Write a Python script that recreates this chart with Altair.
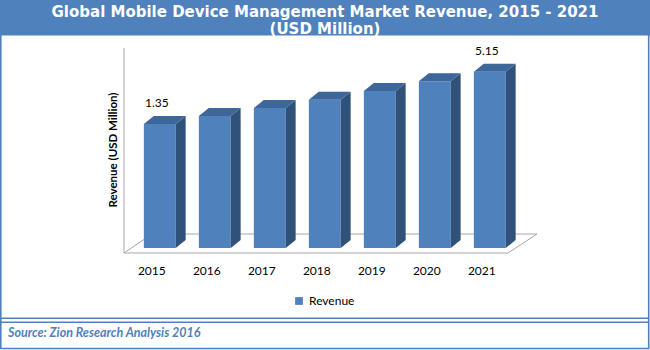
import altair as alt
import pandas as pd

# ---------------- data ----------------
YEARS = ["2015", "2016", "2017", "2018", "2019", "2020", "2021"]
REVENUE = [1.35, 1.93, 2.51, 3.12, 3.75, 4.46, 5.15]
SERIES = "Revenue"
SHOWN_LABELS = ["2015", "2021"]

TITLE_1 = "Global Mobile Device Management Market Revenue, 2015 - 2021"
TITLE_2 = "(USD Million)"
Y_TITLE = "Revenue (USD Million)"
SOURCE = "Source: Zion Research Analysis 2016"

# ---------------- style / geometry ----------------
BLUE = "#4F81BD"
TOP_C = "#3D6699"
SIDE_C = "#30527A"
GRID = "#A6A6A6"
FONT = "Lato"
TITLE_FONT = "DejaVu Sans"

BASE = -7.66      # value where the drawn bars stand (value axis does not start at 0)
HALF_W = 0.29     # half width of the front face, category units
DX = 0.18         # 3-D depth, category units
DY = 0.58         # 3-D depth, value units

n = len(YEARS)
df = pd.DataFrame({"year": YEARS, "idx": list(range(n)), "value": REVENUE})
df["series"] = SERIES
df["xl"] = df["idx"] - HALF_W
df["xr"] = df["idx"] + HALF_W
df["base"] = BASE
df["label"] = [f"{v:.2f}" if y in SHOWN_LABELS else "" for y, v in zip(YEARS, REVENUE)]

side_rows, top_rows = [], []
for _, r in df.iterrows():
    side_rows.append({"year": r.year, "x": r.xr, "y": r.value, "y2": BASE})
    side_rows.append({"year": r.year, "x": r.xr + DX, "y": r.value + DY, "y2": BASE + DY})
    top_rows.append({"year": r.year, "y": r.value, "x": r.xl, "x2": r.xr})
    top_rows.append({"year": r.year, "y": r.value + DY, "x": r.xl + DX, "x2": r.xr + DX})
side = pd.DataFrame(side_rows)
top = pd.DataFrame(top_rows)

xs = alt.Scale(domain=[0, n - 1], range=[159.8, 489.8], nice=False, zero=False)
ys = alt.Scale(domain=[BASE, 10.36], range=[248, 0], nice=False, zero=False)

one = pd.DataFrame({"k": [0]})


def rule(x1, y1, x2, y2, color=GRID, width=1.0):
    return alt.Chart(one).mark_rule(color=color, strokeWidth=width).encode(
        x=alt.value(x1), y=alt.value(y1), x2=alt.value(x2), y2=alt.value(y2)
    )


def label(text, x, y, **kw):
    return alt.Chart(one).mark_text(**kw).encode(
        x=alt.value(x), y=alt.value(y), text=alt.value(text)
    )


banner = alt.Chart(one).mark_rect(color=BLUE).encode(
    x=alt.value(0), x2=alt.value(650), y=alt.value(0), y2=alt.value(35.5)
)
frame = alt.Chart(one).mark_rect(fill=None, stroke=BLUE, strokeWidth=1.6).encode(
    x=alt.value(0.8), x2=alt.value(648.7), y=alt.value(0.8), y2=alt.value(348.5)
)

floor = [
    rule(124, 48, 124, 253),
    rule(152, 234, 537, 234),
    rule(124, 253, 152, 234),
    rule(124, 253, 508, 253),
    rule(508, 253, 537, 234),
]

front = alt.Chart(df).mark_rect().encode(
    x=alt.X("xl:Q", scale=xs, axis=None),
    x2="xr:Q",
    y=alt.Y("value:Q", scale=ys, axis=None),
    y2="base:Q",
    color=alt.Color(
        "series:N",
        scale=alt.Scale(range=[BLUE]),
        legend=alt.Legend(
            orient="none", legendX=293, legendY=295, title=None,
            symbolType="square", symbolSize=60, symbolStrokeWidth=0,
            labelFont=FONT, labelFontSize=12, labelColor="#000000",
            padding=0, labelOffset=4,
        ),
    ),
)
side_face = alt.Chart(side).mark_area(color=SIDE_C, opacity=1).encode(
    x=alt.X("x:Q", scale=xs, axis=None),
    y=alt.Y("y:Q", scale=ys, axis=None),
    y2="y2:Q",
    detail="year:N",
)
top_face = alt.Chart(top).mark_area(color=TOP_C, orient="horizontal", opacity=1).encode(
    y=alt.Y("y:Q", scale=ys, axis=None),
    x=alt.X("x:Q", scale=xs, axis=None),
    x2="x2:Q",
    detail="year:N",
)
values = alt.Chart(df).mark_text(font=FONT, fontSize=12, color="#000000", dx=-3, dy=-21).encode(
    x=alt.X("idx:Q", scale=xs, axis=None),
    y=alt.Y("value:Q", scale=ys, axis=None),
    text="label:N",
)
years = alt.Chart(df).mark_text(font=FONT, fontSize=12, color="#000000", dx=-8).encode(
    x=alt.X("idx:Q", scale=xs, axis=None),
    y=alt.value(271),
    text="year:N",
)

texts = [
    label(TITLE_1, 325, 12, font=TITLE_FONT, fontSize=15, fontWeight="bold", color="white"),
    label(TITLE_2, 325, 29, font=TITLE_FONT, fontSize=15, fontWeight="bold", color="white"),
    label(Y_TITLE, 114, 150, font=FONT, fontSize=11.5, fontWeight="bold", angle=270, color="#000000"),
    label(SOURCE, 8, 333, font=FONT, fontSize=12.5, fontStyle="italic", fontWeight="bold",
          color=BLUE, align="left"),
]

sep = [rule(1, 318.3, 649, 318.3, color=BLUE, width=1.4), rule(1, 322.3, 649, 322.3, color=BLUE, width=1.4)]

chart = alt.layer(
    banner, *floor, front, side_face, top_face, values, years, *texts, *sep, frame
).properties(
    width=650, height=350, autosize=alt.AutoSizeParams(type="none"), padding=0,
    background="white",
).configure_view(stroke=None)

chart.save("out.html", embed_options={"renderer": "svg", "actions": False})
